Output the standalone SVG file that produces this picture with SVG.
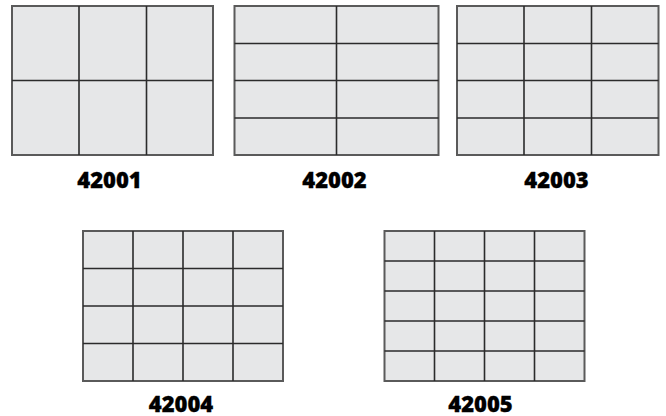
<svg xmlns="http://www.w3.org/2000/svg" width="666" height="416" viewBox="0 0 666 416">
<style>
.panel{fill:#e6e7e8;stroke:#5a5a5a;stroke-width:2}
.grid{stroke:#2b2b2b;stroke-width:1.6;fill:none}
.lbl{font-family:"Open Sans","Noto Sans",sans-serif;font-weight:800;font-size:22px;fill:#000;stroke:#000;stroke-width:0.3;text-anchor:middle}
</style>
<rect width="666" height="416" fill="#fff"/>
<g id="n42001">
<rect class="panel" x="12" y="6" width="201" height="149"/>
<path class="grid" d="M79,6V155M146.5,6V155M12,80.5H213"/>
<text class="lbl" x="109.5" y="187.5">42001</text>
</g>
<g id="n42002">
<rect class="panel" x="234.5" y="6" width="204" height="149"/>
<path class="grid" d="M336.5,6V155M234.5,43.5H438.5M234.5,80.5H438.5M234.5,118H438.5"/>
<text class="lbl" x="334.5" y="187.5">42002</text>
</g>
<g id="n42003">
<rect class="panel" x="457" y="6" width="201.5" height="149"/>
<path class="grid" d="M524,6V155M591.5,6V155M457,43.5H658.5M457,80.5H658.5M457,118H658.5"/>
<text class="lbl" x="556.5" y="187.5">42003</text>
</g>
<g id="n42004">
<rect class="panel" x="83" y="231" width="200" height="150"/>
<path class="grid" d="M133,231V381M183,231V381M233,231V381M83,268.5H283M83,306H283M83,343.5H283"/>
<text class="lbl" x="181" y="411.5">42004</text>
</g>
<g id="n42005">
<rect class="panel" x="384.5" y="231" width="200" height="150"/>
<path class="grid" d="M434.5,231V381M484.5,231V381M534.5,231V381M384.5,261H584.5M384.5,291H584.5M384.5,321H584.5M384.5,351H584.5"/>
<text class="lbl" x="480.5" y="411.5">42005</text>
</g>
<g id="connectors"></g>
</svg>
